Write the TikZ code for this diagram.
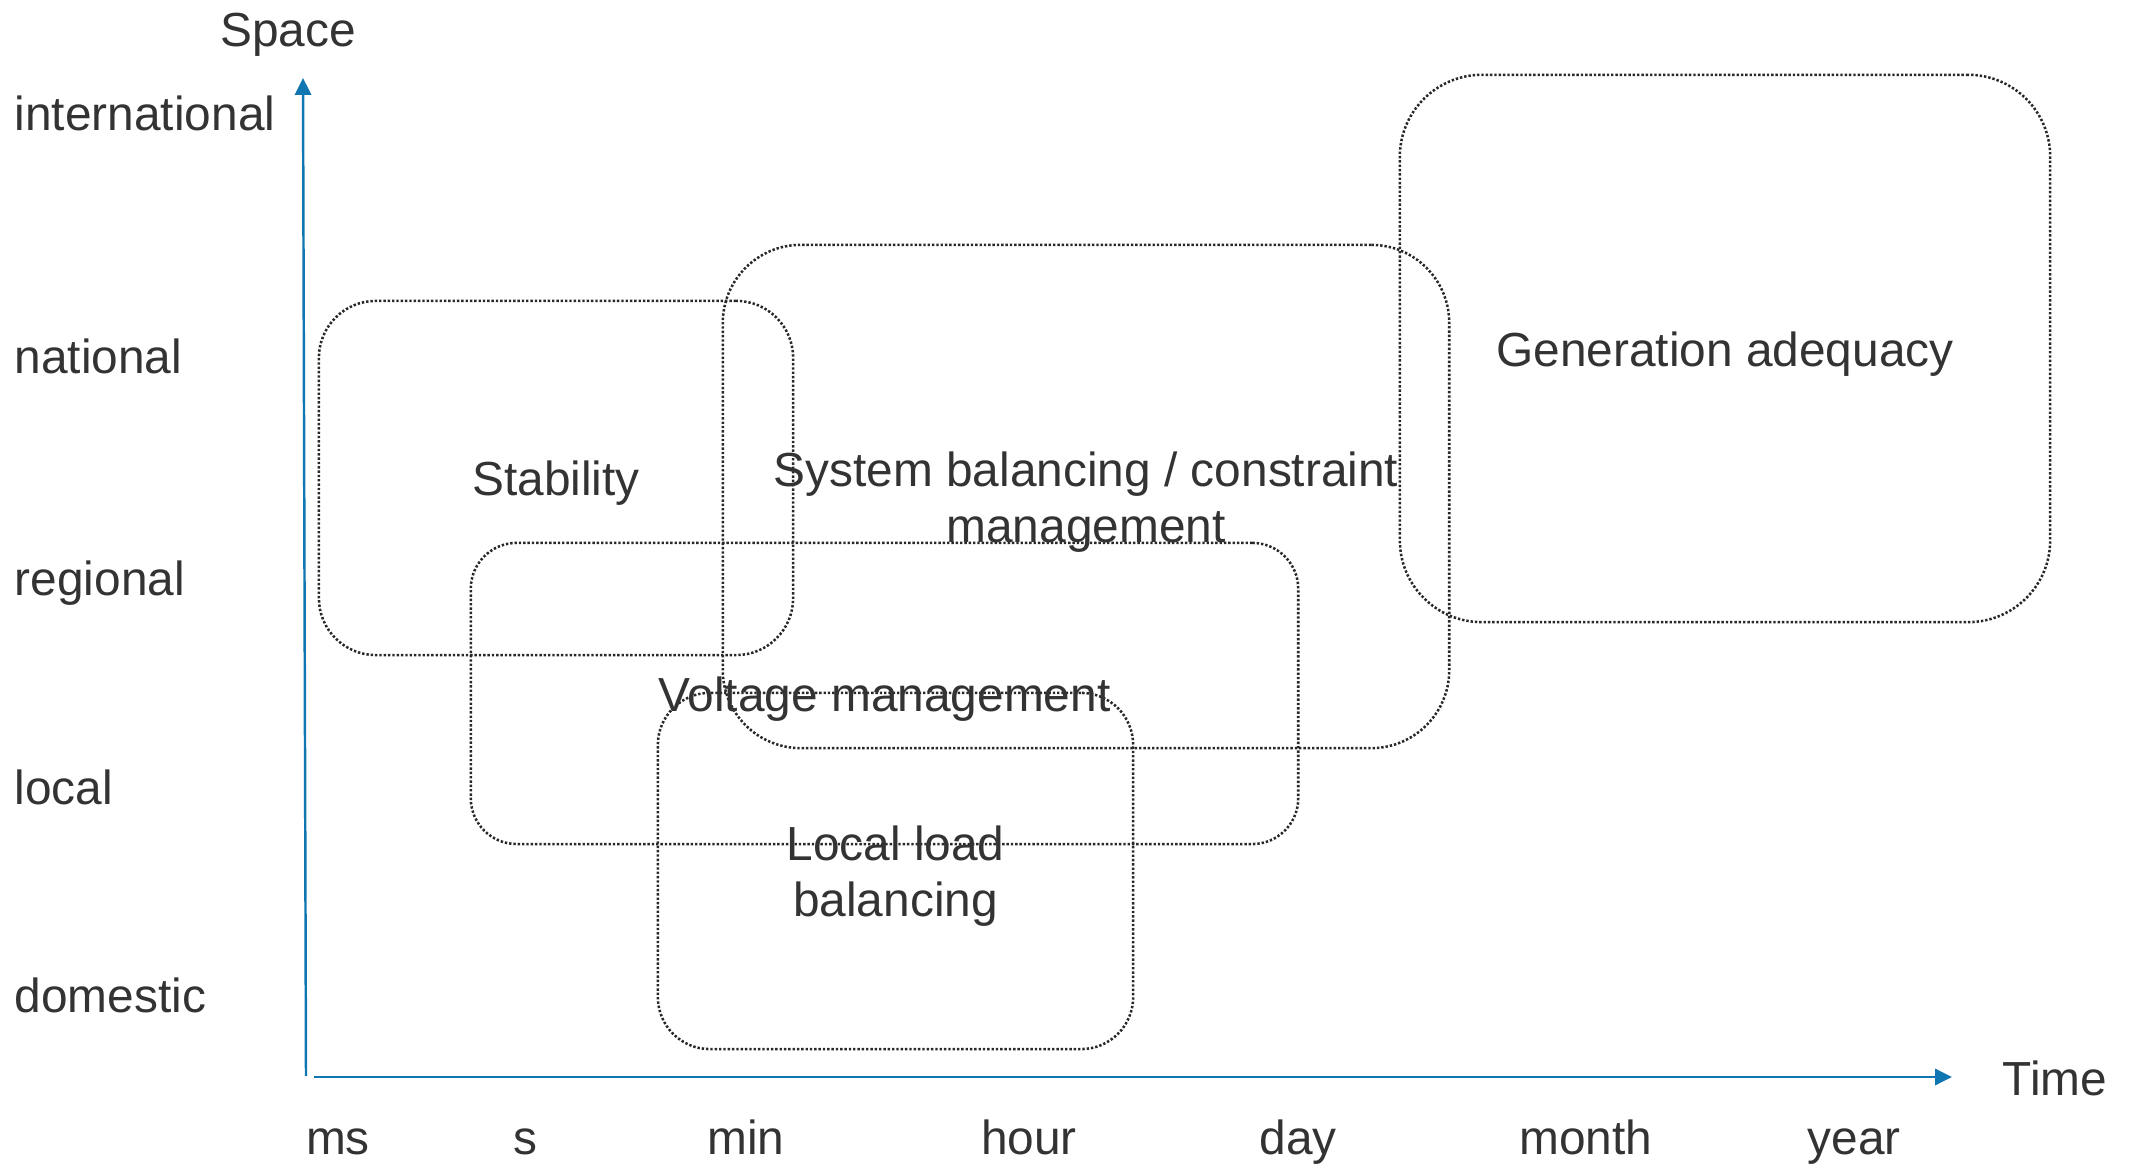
\documentclass[tikz,border=0pt]{standalone}
\usepackage{fontspec}
\setmainfont{Liberation Sans}
\usetikzlibrary{arrows.meta}
\definecolor{axisblue}{RGB}{16,118,178}
\definecolor{ink}{RGB}{51,51,51}
\definecolor{dotink}{RGB}{40,40,40}
\begin{document}
\begin{tikzpicture}[x=0.01cm,y=-0.01cm,
  every node/.style={text=ink, font=\fontsize{13.6pt}{15.9pt}\selectfont},
  zone/.style={draw=dotink, line width=0.72pt, dash pattern=on 0.68pt off 0.55pt, inner sep=0pt},
  zonetext/.style={align=center, inner sep=0pt},
  axisline/.style={draw=axisblue, line width=0.7pt, -{Triangle[length=4.8pt,width=4.6pt]}},
  lab/.style={anchor=base west, inner sep=0pt},
  tick/.style={anchor=base, inner sep=0pt}]
\useasboundingbox (0,0) rectangle (2131,1165);

% axes
\coordinate (yo) at (306,1076);
\coordinate (ytip) at (303,78);
\coordinate (xo) at (314,1077);
\coordinate (xtip) at (1952,1077);
\draw[axisline] (yo) -- (ytip);
\draw[axisline] (xo) -- (xtip);

\node[tick] (space) at (288,47) {Space};
\node[tick] (time) at (2055,1095) {Time};

% space levels
\node[lab] (intl) at (14,131) {international};
\node[lab] (natl) at (14,374) {national};
\node[lab] (regl) at (14,596) {regional};
\node[lab] (locl) at (14,805) {local};
\node[lab] (dome) at (14,1012) {domestic};

% time levels
\node[tick] (tms) at (338,1154) {ms};
\node[tick] (ts) at (525,1154) {s};
\node[tick] (tmin) at (746,1154) {min};
\node[tick] (thour) at (1029,1154) {hour};
\node[tick] (tday) at (1298,1154) {day};
\node[tick] (tmonth) at (1586,1154) {month};
\node[tick] (tyear) at (1854,1154) {year};

% zones
\node[zone, minimum width=4.74cm, minimum height=3.54cm, rounded corners=0.57cm] (stab) at (556,478) {};
\node[zone, minimum width=7.26cm, minimum height=5.03cm, rounded corners=0.78cm] (sysb) at (1086,496.5) {};
\node[zone, minimum width=6.50cm, minimum height=5.47cm, rounded corners=0.82cm] (gena) at (1725,348.5) {};
\node[zone, minimum width=8.27cm, minimum height=3.01cm, rounded corners=0.46cm] (volt) at (884.5,693.5) {};
\node[zone, minimum width=4.75cm, minimum height=3.56cm, rounded corners=0.52cm] (llb) at (895.5,871) {};

% zone labels
\node[zonetext] (stabt) at ([yshift=-0.055cm]stab.center) {Stability};
\node[zonetext] (sysbt) at ([yshift=-0.055cm]sysb.center) {System balancing / constraint\\management};
\node[zonetext] (genat) at ([yshift=-0.055cm]gena.center) {Generation adequacy};
\node[zonetext] (voltt) at ([yshift=-0.06cm]volt.center) {Voltage management};
\node[zonetext] (llbt) at ([yshift=-0.055cm]llb.center) {Local load\\balancing};
\end{tikzpicture}
\end{document}
